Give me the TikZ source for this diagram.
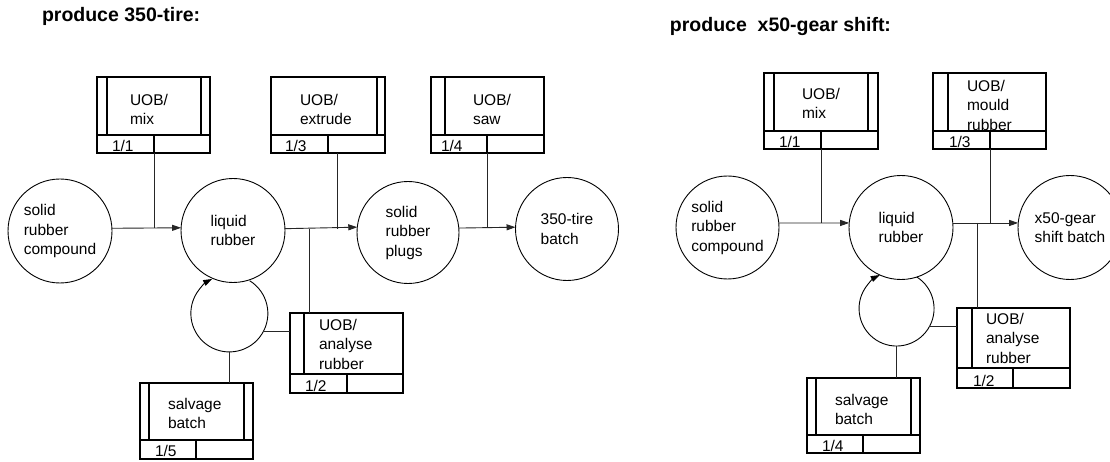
\documentclass[tikz,border=0pt]{standalone}
\usepackage{fontspec}
\setmainfont{Liberation Sans}
\usetikzlibrary{arrows.meta}
\tikzset{
  every node/.style={font=\fontsize{15.5}{19.5}\selectfont, inner sep=0pt, outer sep=0pt},
  uobnode/.style={draw, line width=2.4pt, rectangle},
  boxline/.style={line width=2.4pt},
  conn/.style={line width=0.9pt, draw=black!85},
  loopline/.style={line width=0.9pt, draw=black},
  arr/.style={-{Triangle[length=9pt,width=6pt]}},
  proc/.style={circle, draw, line width=0.9pt, align=left, minimum size=#1},
  hidden/.style={circle, minimum size=#1},
  txt/.style={align=left, anchor=north west},
  lab/.style={anchor=base west},
  title/.style={font=\fontsize{19.5}{23}\selectfont\bfseries}
}
\newcommand\uobbox[7]{%
  \node[uobnode, minimum width={#4-#2}, minimum height={#5-#3}, anchor=north west] (#1) at (#2,#3) {};
  \draw[boxline] (#2,#6) -- (#4,#6);
  \draw[boxline] (#7,#6) -- (#7,#5);
}
\newcommand\uobbar[3]{\draw[boxline] (#1,#2) -- (#1,#3);}
\begin{document}
\begin{tikzpicture}[x=1pt,y=-1pt]
\useasboundingbox (0,0) rectangle (1110,462);
\fill[white] (0,0) rectangle (1110,462);
\clip (0,0) rectangle (1110,462);

% ---------------- titles
\node[title, anchor=base west] (titleL) at (42,22) {produce 350-tire:};
\node[title, anchor=base east] (titleR) at (891,31.5) {produce~~x50-gear shift:};

% ================= LEFT DIAGRAM
% boxes
\uobbox{mixL}{97}{77}{210}{153}{135}{154}
\uobbar{107}{77}{135}\uobbar{201}{77}{135}
\node[txt] (mixLt) at (130,94) {UOB/\\mix};
\node[lab] (mixLn) at (112,151.5) {1/1};

\uobbox{extL}{271}{77}{385}{153}{135}{328}
\uobbar{377}{77}{135}
\node[txt] (extLt) at (300,94) {UOB/\\extrude};
\node[lab] (extLn) at (285,151.5) {1/3};

\uobbox{sawL}{431}{77}{544}{153}{135}{487}
\uobbar{445}{77}{135}
\node[txt] (sawLt) at (473,94) {UOB/\\saw};
\node[lab] (sawLn) at (441,151.5) {1/4};

\uobbox{anaL}{290}{313}{403}{393}{374}{347}
\uobbar{304}{313}{374}
\node[txt] (anaLt) at (319,319) {UOB/\\analyse\\rubber};
\node[lab] (anaLn) at (305,391.5) {1/2};

\uobbox{salvL}{140}{383}{253}{459}{440}{196}
\uobbar{149}{383}{440}\uobbar{244}{383}{440}
\node[txt] (salvLt) at (168,398) {salvage\\batch};
\node[lab] (salvLn) at (155,456.5) {1/5};

% circles
\node[proc=104] (solidL) at (60,231) {solid\\rubber\\compound};
\node[proc=104] (liquidL) at (233,230.5) {liquid\\rubber};
\node[proc=102] (plugsL) at (408,232.5) {solid\\rubber\\plugs};
\node[proc=103] (tireL) at (567,229) {350-tire\\batch};
\node[hidden=77] (loopL) at (229.3,313.4) {};

% connectors
\draw[conn, arr] (solidL.3.3) -- (liquidL.177.2);
\draw[conn, arr] (liquidL.2.8) -- (plugsL.174.9);
\draw[conn, arr] (plugsL.5.1) -- (tireL.178.9);
\coordinate (mixLd) at (154,153);
\draw[conn] (mixLd) -- (mixLd |- solidL.3.3);
\coordinate (extLd) at (337.5,153);
\draw[conn] (extLd) -- (extLd |- liquidL.2.8);
\coordinate (sawLd) at (487,153);
\draw[conn] (sawLd) -- (sawLd |- plugsL.5.1);
\coordinate (anaLu) at (309.5,313);
\draw[conn] (anaLu |- liquidL.2.8) -- (anaLu);
\draw[loopline, arr] (loopL.58.1) arc[start angle=-58.1, end angle=243.6, radius=38.5];
\draw[conn] (loopL.-28.9) -- (loopL.-28.9 -| anaL.west);
\draw[conn] (loopL.south) -- (loopL.south |- salvL.north);

% ================= RIGHT DIAGRAM
\uobbox{mixR}{764}{73}{878}{149}{131}{821}
\uobbar{774}{73}{131}\uobbar{868}{73}{131}
\node[txt] (mixRt) at (802,88) {UOB/\\mix};
\node[lab] (mixRn) at (779,147.5) {1/1};

\uobbox{mouldR}{933}{73}{1046}{149}{131}{990}
\uobbar{948}{73}{131}
\node[txt] (mouldRt) at (967,80) {UOB/\\mould\\rubber};
\node[lab] (mouldRn) at (949,147.5) {1/3};

\uobbox{anaR}{957}{308}{1070}{388}{368}{1013}
\uobbar{972}{308}{368}
\node[txt] (anaRt) at (986,313) {UOB/\\analyse\\rubber};
\node[lab] (anaRn) at (973,386.5) {1/2};

\uobbox{salvR}{807}{378}{920}{453}{435}{863}
\uobbar{816}{378}{435}\uobbar{911}{378}{435}
\node[txt] (salvRt) at (835,394) {salvage\\batch};
\node[lab] (salvRn) at (822,451.5) {1/4};

\node[proc=103] (solidR) at (727.5,227.5) {solid\\rubber\\compound};
\node[proc=104] (liquidR) at (901,227.5) {liquid\\rubber};
\node[proc=104] (x50R) at (1070,227.5) {x50-gear\\shift batch};
\node[hidden=75] (loopR) at (896.5,308.5) {};

\draw[conn, arr] (solidR.5) -- (liquidR.175);
\draw[conn, arr] (liquidR.5) -- (x50R.175);
\coordinate (mixRd) at (821,149);
\draw[conn] (mixRd) -- (mixRd |- solidR.5);
\coordinate (mouldRd) at (990,149);
\draw[conn] (mouldRd) -- (mouldRd |- liquidR.5);
\coordinate (anaRu) at (977,308);
\draw[conn] (anaRu |- liquidR.5) -- (anaRu);
\draw[loopline, arr] (loopR.57.1) arc[start angle=-57.1, end angle=243.4, radius=37.5];
\draw[conn] (loopR.-29.6) -- (loopR.-29.6 -| anaR.west);
\draw[conn] (loopR.south) -- (loopR.south |- salvR.north);
\end{tikzpicture}
\end{document}
